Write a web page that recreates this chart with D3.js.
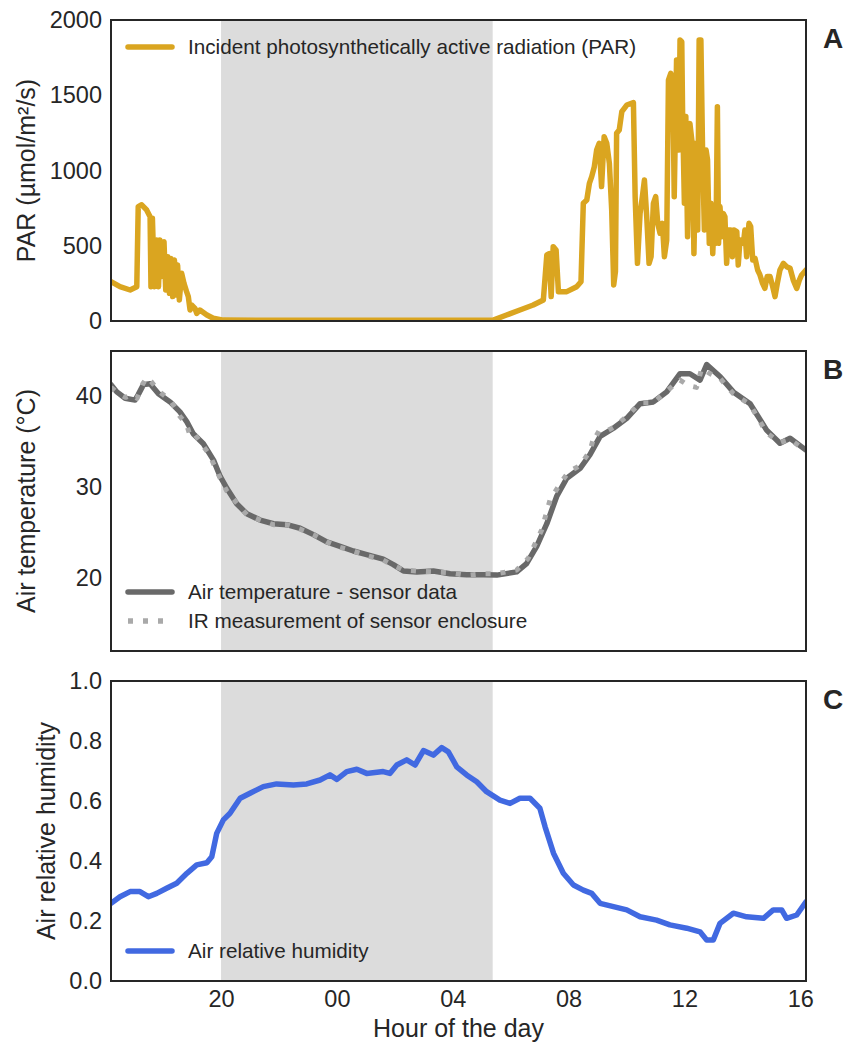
<!DOCTYPE html>
<html><head><meta charset="utf-8">
<script src="https://cdn.jsdelivr.net/npm/d3@7"></script>
<style>
body{margin:0;background:#fff;}
svg{display:block;font-family:"Liberation Sans",Arial,sans-serif;}
</style>
</head><body>
<svg id="chart" width="847" height="1042"></svg>
<script>
// ---- data (hour of day, continuing past 24 for the next day) ----
const xDomain = [16.2, 40.2];
const xTickHours = [20, 24, 28, 32, 36, 40];
const xTickLabels = ["20", "00", "04", "08", "12", "16"];
const nightStart = 20.0, nightEnd = 29.38;

const parTicks = [0, 500, 1000, 1500, 2000];
const tempTicks = [20, 30, 40];
const rhTicks = [0.0, 0.2, 0.4, 0.6, 0.8, 1.0];

const parData = [
[16.2,261],[16.51,228],[16.86,206],[17.09,228],[17.14,760],[17.26,772],[17.43,738],[17.55,693],[17.58,228],[17.63,682],
[17.70,228],[17.78,538],[17.84,228],[17.89,538],[17.95,295],[18.03,527],[18.09,206],[18.16,427],[18.22,184],[18.27,416],
[18.33,162],[18.39,405],[18.45,173],[18.50,372],[18.56,140],[18.64,317],[18.72,250],[18.81,195],[18.87,162],[18.93,73],
[18.99,106],[19.10,84],[19.16,51],[19.27,73],[19.51,40],[19.73,18],[20.08,6],[22.0,5],[25.0,5],[28.0,5],[29.4,6],
[29.86,40],[30.32,73],[30.78,106],[31.13,140],[31.25,439],[31.33,447],[31.40,162],[31.47,494],[31.57,472],[31.65,195],
[31.94,195],[32.28,228],[32.43,261],[32.51,782],[32.63,804],[32.72,915],[32.80,959],[32.89,1025],[32.97,1136],[33.06,1181],
[33.14,893],[33.23,1225],[33.32,1181],[33.41,1048],[33.49,738],[33.56,240],[33.62,330],[33.66,1247],[33.75,1269],[33.84,1391],[34.01,1435],
[34.24,1451],[34.30,826],[34.38,383],[34.47,715],[34.55,826],[34.62,937],[34.70,693],[34.78,383],[34.85,427],[34.93,782],
[35.01,826],[35.08,649],[35.16,583],[35.24,649],[35.31,427],[35.39,538],[35.45,1601],[35.53,1646],[35.60,1580],[35.65,826],
[35.73,1734],[35.81,1136],[35.85,1867],[35.91,1856],[35.94,1358],[36.00,782],[36.05,1358],[36.11,560],[36.19,1313],[36.27,1181],
[36.33,447],[36.40,1181],[36.46,605],[36.51,1867],[36.57,1867],[36.63,1114],[36.69,605],[36.75,1136],[36.80,1070],[36.86,516],
[36.92,782],[36.98,447],[37.04,738],[37.09,516],[37.14,1424],[37.18,516],[37.23,760],[37.29,560],[37.34,715],[37.40,693],
[37.46,383],[37.52,605],[37.60,605],[37.66,427],[37.71,605],[37.81,594],[37.86,372],[37.92,538],[38.04,516],[38.09,605],
[38.15,427],[38.23,649],[38.29,627],[38.36,405],[38.44,416],[38.53,339],[38.61,306],[38.70,250],[38.78,217],[38.86,295],
[38.96,295],[39.05,228],[39.13,162],[39.21,250],[39.30,339],[39.42,383],[39.53,361],[39.65,350],[39.76,272],[39.88,217],
[39.97,272],[40.05,306],[40.2,339]
];

const tempSensor = [
[16.2,41.3],[16.40,40.5],[16.69,39.8],[17.03,39.6],[17.14,40.2],[17.32,41.3],[17.55,41.4],[17.84,40.3],[18.24,39.4],[18.58,38.3],
[18.82,37.2],[19.04,35.9],[19.39,34.8],[19.74,33.0],[19.97,31.2],[20.20,29.9],[20.54,28.2],[20.89,27.1],[21.35,26.4],[21.81,26.0],
[22.27,25.9],[22.73,25.5],[23.19,24.8],[23.65,24.0],[24.11,23.5],[24.57,23.0],[25.03,22.6],[25.60,22.1],[25.95,21.5],[26.30,20.8],
[26.76,20.7],[27.33,20.8],[27.91,20.5],[28.48,20.4],[29.06,20.4],[29.52,20.35],[30.21,20.7],[30.55,21.6],[30.90,23.5],[31.25,26.0],
[31.59,29.0],[31.94,31.0],[32.40,32.1],[32.74,33.6],[33.09,35.6],[33.55,36.5],[34.01,37.6],[34.47,39.2],[34.93,39.4],[35.39,40.5],
[35.85,42.5],[36.19,42.5],[36.54,41.8],[36.77,43.5],[37.23,42.2],[37.69,40.5],[38.27,39.2],[38.84,36.3],[39.30,34.85],[39.65,35.4],
[40.2,34.1]
];

const tempIR = [
[16.2,41.0],[16.45,40.3],[16.7,39.9],[16.95,40.2],[17.1,39.8],[17.3,41.4],[17.45,42.1],[17.6,41.6],[17.84,40.6],[18.24,39.6],
[18.45,38.6],[18.58,37.8],[18.8,37.0],[18.94,35.6],[19.1,35.8],[19.39,34.5],[19.6,33.6],[19.74,32.6],[19.97,31.0],[20.2,29.6],
[20.54,28.3],[20.89,27.0],[21.35,26.4],[21.81,25.9],[22.27,25.9],[22.73,25.4],[23.19,24.8],[23.65,24.0],[24.11,23.4],[24.57,23.0],
[25.03,22.5],[25.60,22.0],[25.95,21.4],[26.30,20.9],[26.76,20.8],[27.33,20.7],[27.91,20.6],[28.48,20.3],[29.06,20.5],[29.52,20.5],
[30.21,20.9],[30.61,22.2],[31.07,25.3],[31.36,28.6],[31.71,30.4],[32.0,31.7],[32.40,32.4],[32.74,34.0],[32.92,36.1],[33.09,35.8],
[33.55,36.6],[34.01,37.8],[34.47,39.3],[34.93,39.3],[35.39,40.6],[35.85,41.8],[36.14,41.2],[36.42,41.0],[36.60,43.1],[36.89,42.5],
[37.23,42.0],[37.69,40.3],[38.27,39.1],[38.84,36.0],[39.30,34.9],[39.65,35.3],[40.2,34.0]
];

const rhData = [
[16.2,0.259],[16.51,0.281],[16.86,0.298],[17.20,0.298],[17.49,0.281],[17.78,0.292],[18.12,0.309],[18.47,0.326],[18.82,0.359],[19.16,0.387],
[19.51,0.394],[19.68,0.414],[19.85,0.492],[20.08,0.537],[20.31,0.559],[20.66,0.609],[21.00,0.626],[21.46,0.648],[21.92,0.657],[22.50,0.653],
[22.96,0.657],[23.42,0.670],[23.76,0.687],[24.00,0.672],[24.34,0.698],[24.69,0.706],[25.03,0.692],[25.60,0.698],[25.83,0.692],[26.07,0.720],
[26.41,0.737],[26.70,0.720],[26.99,0.768],[27.33,0.753],[27.62,0.778],[27.85,0.764],[28.14,0.714],[28.48,0.687],[28.83,0.664],[29.17,0.631],
[29.63,0.603],[29.98,0.592],[30.32,0.609],[30.67,0.609],[31.01,0.576],[31.19,0.514],[31.48,0.426],[31.82,0.359],[32.17,0.320],[32.51,0.303],
[32.80,0.292],[33.09,0.259],[33.55,0.248],[34.01,0.237],[34.47,0.214],[35.04,0.203],[35.50,0.187],[36.08,0.176],[36.54,0.164],[36.77,0.137],
[37.00,0.137],[37.23,0.192],[37.69,0.226],[38.15,0.214],[38.73,0.209],[39.07,0.237],[39.36,0.237],[39.53,0.209],[39.88,0.220],[40.2,0.264]
];

// ---- layout ----
const svg = d3.select("#chart");
const left = 111, right = 806;
const ink = "#262626";
const x = d3.scaleLinear().domain(xDomain).range([left, right]);

const panels = [
  {top: 20, bottom: 321, domain: [0, 2000], ticks: parTicks, fmt: d => String(d),
   label: "PAR (µmol/m²/s)", labelX: 35, letter: "A",
   series: [{data: parData, color: "#DAA520", width: 5.5, dash: null}],
   legend: [{text: "Incident photosynthetically active radiation (PAR)", y: 47, color: "#DAA520", dash: null}]},
  {top: 351, bottom: 651, domain: [12, 45], ticks: tempTicks, fmt: d => String(d),
   label: "Air temperature (°C)", labelX: 35, letter: "B",
   series: [{data: tempSensor, color: "#696969", width: 5.5, dash: null},
            {data: tempIR, color: "#A9A9A9", width: 5, dash: "5,10"}],
   legend: [{text: "Air temperature - sensor data", y: 592, color: "#696969", dash: null},
            {text: "IR measurement of sensor enclosure", y: 621, color: "#A9A9A9", dash: "5,10"}]},
  {top: 681, bottom: 981, domain: [0, 1], ticks: rhTicks, fmt: d3.format(".1f"),
   label: "Air relative humidity", labelX: 55, letter: "C",
   series: [{data: rhData, color: "#4169E1", width: 5.5, dash: null}],
   legend: [{text: "Air relative humidity", y: 951, color: "#4169E1", dash: null}]}
];

panels.forEach((p, i) => {
  const y = d3.scaleLinear().domain(p.domain).range([p.bottom, p.top]);
  const g = svg.append("g");
  const clipId = "clip" + i;
  svg.append("clipPath").attr("id", clipId).append("rect")
    .attr("x", left).attr("y", p.top).attr("width", right - left).attr("height", p.bottom - p.top);

  // night shading
  g.append("rect")
    .attr("x", x(nightStart)).attr("y", p.top)
    .attr("width", x(nightEnd) - x(nightStart)).attr("height", p.bottom - p.top)
    .attr("fill", "#DCDCDC");

  // series
  const line = d3.line().x(d => x(d[0])).y(d => y(d[1]));
  p.series.forEach(s => {
    g.append("path").datum(s.data)
      .attr("clip-path", `url(#${clipId})`)
      .attr("d", line)
      .attr("fill", "none")
      .attr("stroke", s.color)
      .attr("stroke-width", s.width)
      .attr("stroke-linejoin", "round")
      .attr("stroke-linecap", s.dash ? "butt" : "round")
      .attr("stroke-dasharray", s.dash);
  });

  // y axis
  const yAxis = d3.axisLeft(y).tickValues(p.ticks).tickFormat(p.fmt).tickSize(0).tickPadding(9);
  const ya = svg.append("g").attr("transform", `translate(${left},0)`).call(yAxis);
  ya.select(".domain").remove();
  ya.selectAll("text").attr("font-size", 23.5).attr("fill", ink)
    .attr("font-family", "'Liberation Sans', Arial, sans-serif");

  // frame
  svg.append("rect").attr("x", left).attr("y", p.top)
    .attr("width", right - left).attr("height", p.bottom - p.top)
    .attr("fill", "none").attr("stroke", ink).attr("stroke-width", 2);

  // y label
  svg.append("text")
    .attr("transform", `translate(${p.labelX},${(p.top + p.bottom) / 2}) rotate(-90)`)
    .attr("text-anchor", "middle")
    .attr("font-size", 25).attr("fill", ink)
    .text(p.label);

  // panel letter
  svg.append("text").attr("x", 833).attr("y", p.top + 28)
    .attr("text-anchor", "middle").attr("font-size", 28).attr("font-weight", "bold")
    .attr("fill", ink).text(p.letter);

  // legend
  p.legend.forEach(l => {
    svg.append("line").attr("x1", 128).attr("x2", 172).attr("y1", l.y).attr("y2", l.y)
      .attr("stroke", l.color).attr("stroke-width", 5.5)
      .attr("stroke-linecap", l.dash ? "butt" : "round")
      .attr("stroke-dasharray", l.dash);
    svg.append("text").attr("x", 188).attr("y", l.y).attr("dy", "0.35em")
      .attr("font-size", 20.7).attr("fill", ink).text(l.text);
  });

  // x axis on last panel
  if (i === panels.length - 1) {
    const xAxis = d3.axisBottom(x).tickValues(xTickHours)
      .tickFormat((d, k) => xTickLabels[k]).tickSize(0).tickPadding(9);
    const xa = svg.append("g").attr("transform", `translate(0,${p.bottom})`).call(xAxis);
    xa.select(".domain").remove();
    xa.selectAll("text").attr("font-size", 23.5).attr("fill", ink)
      .attr("font-family", "'Liberation Sans', Arial, sans-serif");
    svg.append("text").attr("x", (left + right) / 2).attr("y", 1037)
      .attr("text-anchor", "middle").attr("font-size", 25).attr("fill", ink)
      .text("Hour of the day");
  }
});
</script>
</body></html>
